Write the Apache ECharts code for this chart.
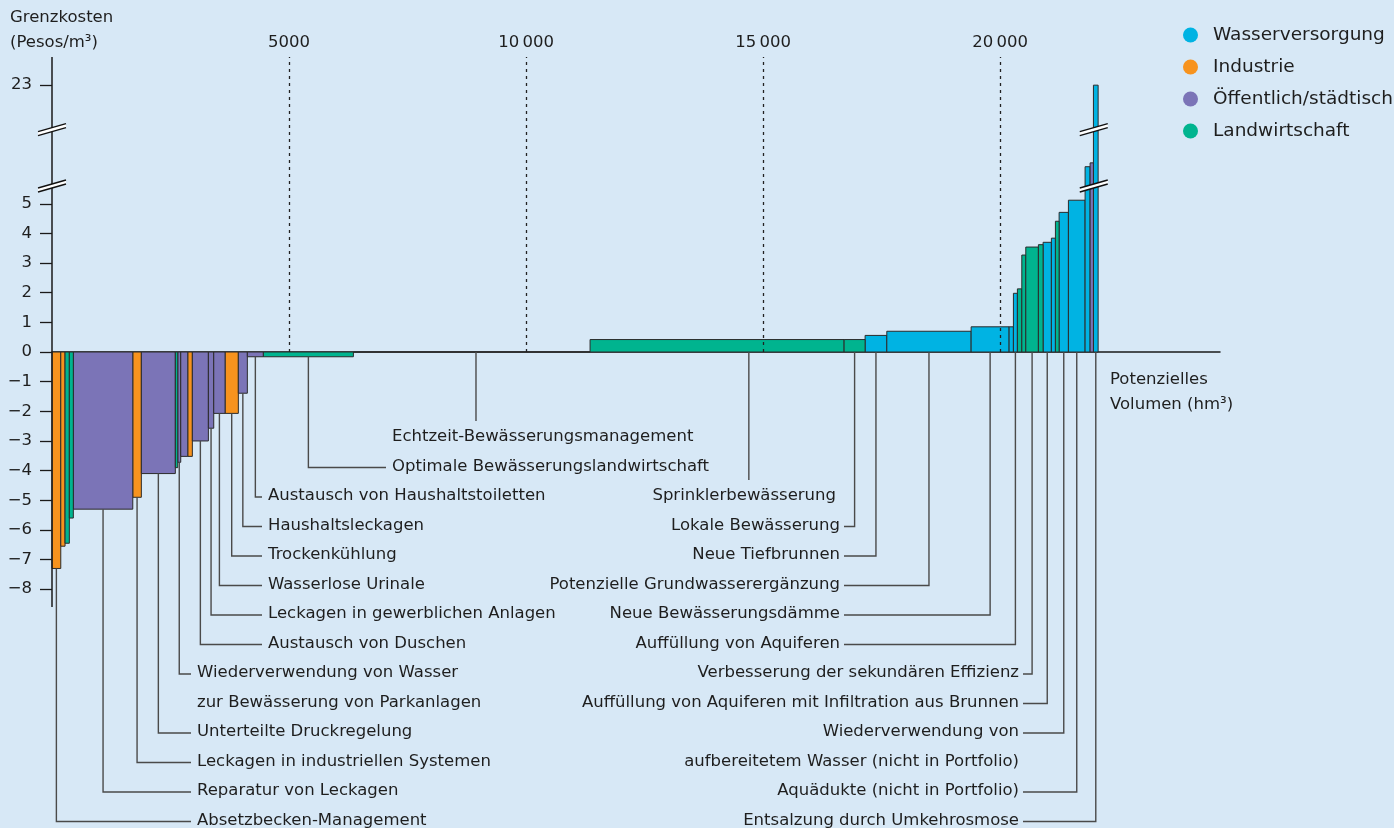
<!DOCTYPE html>
<html>
<head>
<meta charset="utf-8">
<title>Grenzkostenkurve Wasser</title>
<script src="https://cdn.jsdelivr.net/npm/echarts@6/dist/echarts.min.js"></script>
<style>
  html, body { margin: 0; padding: 0; background: #d7e8f6; }
  #chart { width: 1394px; height: 828px; }
</style>
</head>
<body>
<div id="chart"></div>
<script>
// Maßnahmen in der Reihenfolge der Kurve (von links nach rechts)
const measures = [
  'Absetzbecken-Management', '', '', '',
  'Reparatur von Leckagen', 'Leckagen in industriellen Systemen', 'Unterteilte Druckregelung', '',
  'Wiederverwendung von Wasser\nzur Bewässerung von Parkanlagen', '', '',
  'Austausch von Duschen', 'Leckagen in gewerblichen Anlagen', 'Wasserlose Urinale', 'Trockenkühlung',
  'Haushaltsleckagen', 'Austausch von Haushaltstoiletten', 'Optimale Bewässerungslandwirtschaft',
  'Echtzeit-Bewässerungsmanagement', 'Sprinklerbewässerung', 'Lokale Bewässerung', 'Neue Tiefbrunnen',
  'Potenzielle Grundwasserergänzung', 'Neue Bewässerungsdämme', '', 'Auffüllung von Aquiferen', '', '',
  'Verbesserung der sekundären Effizienz', '', 'Auffüllung von Aquiferen mit Infiltration aus Brunnen', '', '',
  'Wiederverwendung von\naufbereitetem Wasser (nicht in Portfolio)', 'Aquädukte (nicht in Portfolio)', '', '',
  'Entsalzung durch Umkehrosmose'
];
// W = Wasserversorgung, I = Industrie, O = Öffentlich/städtisch, L = Landwirtschaft
const sectors = [
  'I', 'I', 'L', 'L', 'O', 'I', 'O', 'L', 'O', 'O', 'I', 'O', 'O', 'O', 'I', 'O', 'O', 'L', 'L',
  'L', 'L', 'W', 'W', 'W', 'W', 'W', 'L', 'L', 'L', 'L', 'W', 'W', 'L', 'W', 'W', 'W', 'O', 'W'
];
// potenzielles Volumen (hm3)
const volumes = [
  185, 90, 91, 84, 1254, 181, 717, 51, 63, 148, 97, 338, 113, 239, 280, 190, 338, 1899, 4993,
  5359, 443, 458, 1779, 801, 91, 84, 93, 84, 266, 99, 175, 85, 78, 196, 352, 106, 70, 99
];
// Grenzkosten (Pesos/m3)
const costs = [
  -7.3, -6.55, -6.45, -5.6, -5.3, -4.9, -4.1, -3.9, -3.72, -3.52, -3.52, -3.0, -2.57, -2.07, -2.07, -1.39, -0.16, -0.16, 0,
  0.42, 0.42, 0.56, 0.7, 0.85, 0.85, 1.98, 2.13, 3.27, 3.54, 3.62, 3.7, 3.84, 4.41, 4.71, 5.12, 6.25, 6.38, 23
];

const sectorKeys = ['W', 'I', 'O', 'L'];
const sectorNames = ['Wasserversorgung', 'Industrie', 'Öffentlich/städtisch', 'Landwirtschaft'];
const sectorColors = ['#00b3e3', '#f7931e', '#7b74b7', '#00b48f'];
const xTicks = [5000, 10000, 15000, 20000];
const yTicks = [-8, -7, -6, -5, -4, -3, -2, -1, 0, 1, 2, 3, 4, 5, 23];

// Beschriftungen: Index der Maßnahme, Zeile, Seite, Textkante (px)
const callouts = [
  { i: 18, row: 0, side: 'L', tx: 392, above: true, shift: 90 },
  { i: 17, row: 1, side: 'L', tx: 392 },
  { i: 16, row: 2, side: 'L', tx: 268 },
  { i: 15, row: 3, side: 'L', tx: 268 },
  { i: 14, row: 4, side: 'L', tx: 268 },
  { i: 13, row: 5, side: 'L', tx: 268 },
  { i: 12, row: 6, side: 'L', tx: 268 },
  { i: 11, row: 7, side: 'L', tx: 268 },
  { i: 8, row: 8, side: 'L', tx: 197 },
  { i: 6, row: 10, side: 'L', tx: 197 },
  { i: 5, row: 11, side: 'L', tx: 197 },
  { i: 4, row: 12, side: 'L', tx: 197 },
  { i: 0, row: 13, side: 'L', tx: 197 },
  { i: 19, row: 2, side: 'R', tx: 836, above: true, shift: 670 },
  { i: 20, row: 3, side: 'R', tx: 840 },
  { i: 21, row: 4, side: 'R', tx: 840 },
  { i: 22, row: 5, side: 'R', tx: 840 },
  { i: 23, row: 6, side: 'R', tx: 840 },
  { i: 25, row: 7, side: 'R', tx: 840 },
  { i: 28, row: 8, side: 'R', tx: 1019 },
  { i: 30, row: 9, side: 'R', tx: 1019 },
  { i: 33, row: 10, side: 'R', tx: 1019 },
  { i: 34, row: 12, side: 'R', tx: 1019 },
  { i: 37, row: 13, side: 'R', tx: 1019 }
];

const FONT = 'DejaVu Sans';
const TXT = '#1e1e1e';
const Y_MIN = -8.6, Y_MAX = 23.95;
const rowY = r => 437 + r * 29.5;

// kumulierte Start/Ende
let acc = 0;
const bars = volumes.map((v, k) => {
  const b = { start: acc, end: acc + v, cost: costs[k], sector: sectors[k], name: measures[k] };
  acc += v;
  return b;
});

function renderBar(params, api) {
  const p0 = api.coord([api.value(0), 0]);
  const p1 = api.coord([api.value(1), api.value(2)]);
  return {
    type: 'rect',
    shape: { x: p0[0], y: Math.min(p0[1], p1[1]), width: p1[0] - p0[0], height: Math.abs(p1[1] - p0[1]) },
    style: { fill: api.visual('color'), stroke: '#2b2b2b', lineWidth: 1 }
  };
}

const series = sectorKeys.map((key, s) => ({
  name: sectorNames[s],
  type: 'custom',
  xAxisIndex: 0,
  yAxisIndex: 0,
  color: sectorColors[s],
  renderItem: renderBar,
  encode: { x: [0, 1], y: 2 },
  data: bars.filter(b => b.sector === key).map(b => [b.start, b.end, b.cost])
}));

// gepunktete Hilfslinien oberhalb der Nulllinie
series[0].markLine = {
  silent: true,
  symbol: 'none',
  label: { show: false },
  lineStyle: { color: '#222', type: [3, 4], width: 1.3 },
  data: xTicks.map(t => [{ coord: [t, 0] }, { coord: [t, Y_MAX] }])
};

const chart = echarts.init(document.getElementById('chart'));
chart.setOption({
  backgroundColor: '#d7e8f6',
  animation: false,
  textStyle: { fontFamily: FONT },
  grid: { left: 52, right: 174, top: 57, bottom: 221, outerBoundsMode: 'none' },
  legend: {
    data: sectorNames,
    orient: 'vertical',
    left: 1178,
    top: 20,
    icon: 'circle',
    itemWidth: 15,
    itemHeight: 15,
    itemGap: 12,
    selectedMode: false,
    textStyle: { fontFamily: FONT, fontSize: 18.5, color: TXT, lineHeight: 20, padding: [0, 0, 0, 10] }
  },
  xAxis: [
    {
      type: 'value', position: 'top', min: 0, max: 24640, interval: 5000,
      axisLine: { show: false, onZero: false },
      axisTick: { show: false },
      splitLine: { show: false },
      axisLabel: {
        margin: 6, fontSize: 16.5, color: TXT, fontFamily: FONT,
        formatter: v => xTicks.indexOf(v) < 0 ? '' : (v >= 10000 ? String(v).replace(/(\d{3})$/, '\u2009$1') : String(v))
      }
    },
    {
      type: 'value', position: 'bottom', min: 0, max: 24640,
      axisLine: { show: true, onZero: true, lineStyle: { color: '#1a1a1a', width: 1.5 } },
      axisTick: { show: false },
      axisLabel: { show: false },
      splitLine: { show: false }
    }
  ],
  yAxis: {
    type: 'value', min: Y_MIN, max: Y_MAX,
    breaks: [{ start: 6.6, end: 21.5, gap: 0.9 }],
    breakArea: { show: false, itemStyle: { opacity: 0 } },
    axisLine: { show: false, onZero: false },
    axisTick: { show: true, length: 12, customValues: yTicks, lineStyle: { color: '#1a1a1a', width: 1.3 } },
    axisLabel: {
      customValues: yTicks, margin: 20, fontSize: 16.5, color: TXT, fontFamily: FONT,
      formatter: v => String(v).replace('-', '\u2212')
    },
    splitLine: { show: false }
  },
  series: series
});

// Beschriftungen, Führungslinien und Achsenbruch-Zeichen
function px(x, y) { return chart.convertToPixel({ gridIndex: 0 }, [x, y]); }
const gfx = [];
const lineStyle = { stroke: '#4a4a4a', lineWidth: 1.4, fill: null };

// durchgehende y-Achsenlinie
const yTop = px(0, Y_MAX), yBot = px(0, Y_MIN);
gfx.push({ type: 'line', z: 4, shape: { x1: yTop[0], y1: yTop[1], x2: yBot[0], y2: yBot[1] }, style: { stroke: '#1a1a1a', lineWidth: 1.5 } });

callouts.forEach(c => {
  const b = bars[c.i];
  const cx = (b.start + b.end) / 2 + (c.shift || 0);
  const p = px(cx, Math.min(b.cost, 0));
  const y = rowY(c.row);
  if (c.above) {
    gfx.push({ type: 'polyline', shape: { points: [[p[0], p[1]], [p[0], y - 16]] }, style: lineStyle, z: 5 });
  } else {
    const ex = c.side === 'L' ? c.tx - 6 : c.tx + 4;
    gfx.push({ type: 'polyline', shape: { points: [[p[0], p[1]], [p[0], y + 1], [ex, y + 1]] }, style: lineStyle, z: 5 });
  }
  b.name.split('\n').forEach((t, k) => {
    gfx.push({
      type: 'text', z: 6,
      style: {
        text: t, x: c.tx, y: rowY(c.row + k),
        align: c.side === 'L' ? 'left' : 'right', verticalAlign: 'middle',
        font: '16.5px "' + FONT + '"', fill: TXT
      }
    });
  });
});

function breakMark(cx, cy) {
  const w = 14, h = 4;
  gfx.push({
    type: 'polygon', z: 10,
    shape: { points: [[cx - w, cy + h + 2], [cx + w, cy - h + 2], [cx + w, cy - h - 2], [cx - w, cy + h - 2]] },
    style: { fill: '#ffffff', stroke: null }
  });
  [2, -2].forEach(d => gfx.push({
    type: 'line', z: 11,
    shape: { x1: cx - w, y1: cy + h + d, x2: cx + w, y2: cy - h + d },
    style: { stroke: '#111', lineWidth: 1.4 }
  }));
}
const last = bars[bars.length - 1];
[5.6, 21.5].forEach(v => {
  const a = px(0, v);
  breakMark(a[0], a[1]);
  const t = px((last.start + last.end) / 2, v);
  breakMark(t[0] - 2, t[1]);
});

// Achsentitel
[['Grenzkosten', 10, 18], ['(Pesos/m\u00b3)', 10, 43], ['Potenzielles', 1110, 380], ['Volumen (hm\u00b3)', 1110, 405]]
  .forEach(a => gfx.push({
    type: 'text', z: 6,
    style: { text: a[0], x: a[1], y: a[2], verticalAlign: 'middle', font: '16.5px "' + FONT + '"', fill: TXT }
  }));

chart.setOption({ graphic: gfx });
</script>
</body>
</html>
